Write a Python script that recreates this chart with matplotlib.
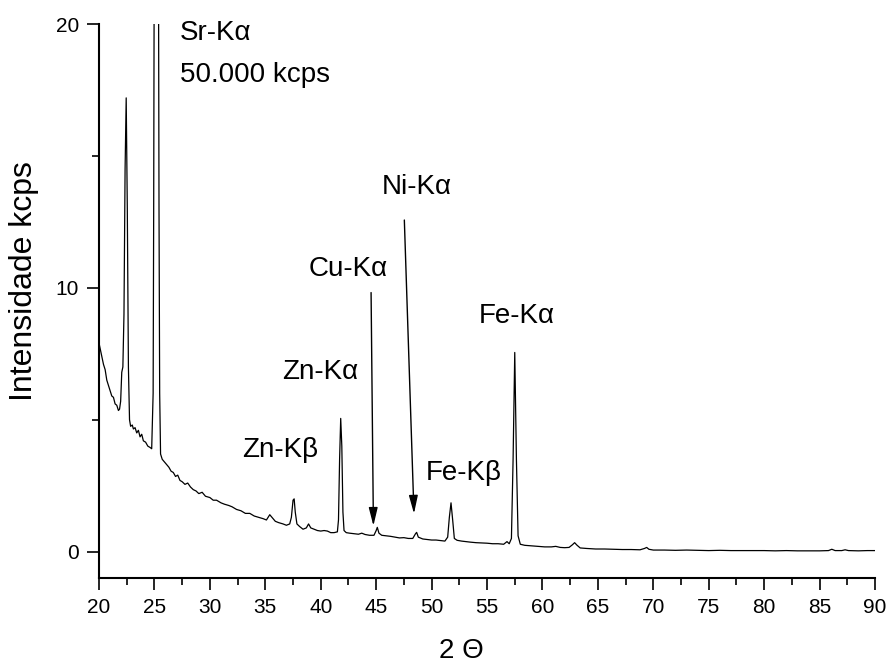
import matplotlib
matplotlib.use("Agg")
import matplotlib.pyplot as plt
from matplotlib.ticker import MultipleLocator

plt.rcParams['font.family'] = ['Liberation Sans', 'DejaVu Sans']

# spectrum (2 theta, kcps)
two_theta = [20.0, 20.1, 20.25, 20.4, 20.55, 20.7, 20.85, 21.0, 21.15, 21.3, 21.45, 21.6, 21.75, 21.85,
             21.95, 22.05, 22.15, 22.25, 22.35, 22.45, 22.55, 22.65, 22.75, 22.85, 23.0, 23.1, 23.25,
             23.4, 23.55, 23.7, 23.85, 24.0, 24.2, 24.4, 24.6, 24.75, 24.88, 24.93, 24.97, 25.05, 25.17,
             25.29, 25.37, 25.41, 25.47, 25.55, 25.7, 25.9, 26.1, 26.3, 26.5, 26.7, 26.9, 27.1, 27.3,
             27.5, 27.75, 28.0, 28.25, 28.5, 28.75, 29.0, 29.3, 29.6, 30.0, 30.3, 30.6, 31.0, 31.3, 31.7,
             32.0, 32.4, 32.8, 33.2, 33.6, 34.0, 34.4, 34.8, 35.1, 35.4, 35.6, 35.9, 36.2, 36.6, 36.9,
             37.2, 37.35, 37.5, 37.6, 37.7, 37.85, 38.1, 38.4, 38.7, 38.9, 39.1, 39.4, 39.7, 40.0, 40.3,
             40.6, 40.9, 41.2, 41.5, 41.6, 41.7, 41.8, 41.9, 42.0, 42.1, 42.3, 42.6, 43.0, 43.4, 43.7,
             44.0, 44.4, 44.8, 45.0, 45.1, 45.25, 45.5, 45.9, 46.3, 46.7, 47.1, 47.5, 47.9, 48.3, 48.55,
             48.65, 48.8, 49.2, 49.6, 50.0, 50.4, 50.8, 51.2, 51.45, 51.6, 51.75, 51.9, 52.05, 52.3,
             52.7, 53.1, 53.5, 54.0, 54.5, 55.0, 55.5, 56.0, 56.5, 56.8, 57.0, 57.2, 57.35, 57.5, 57.65,
             57.8, 58.0, 58.4, 59.0, 59.6, 60.2, 60.8, 61.2, 61.6, 62.0, 62.4, 62.7, 62.9, 63.1, 63.4,
             64.0, 64.8, 65.6, 66.4, 67.2, 68.0, 68.8, 69.2, 69.4, 69.6, 70.0, 71.0, 72.0, 73.0, 74.0,
             75.0, 76.0, 77.0, 78.0, 79.0, 80.0, 81.0, 82.0, 83.0, 84.0, 85.0, 85.8, 86.1, 86.4, 87.0,
             87.3, 87.6, 88.5, 89.3, 90.0]
kcps = [7.9, 7.7, 7.4, 7.1, 6.9, 6.5, 6.3, 6.1, 5.9, 5.85, 5.6, 5.55, 5.35, 5.4,
        5.7, 6.8, 7.0, 9.0, 14.5, 17.2, 13.0, 7.0, 5.0, 4.75, 4.8, 4.65, 4.7,
        4.5, 4.6, 4.35, 4.45, 4.2, 4.15, 4.0, 3.95, 3.9, 6.0, 13.0, 21.0, 38.0, 50.0,
        38.0, 21.0, 13.0, 6.0, 3.7, 3.5, 3.4, 3.3, 3.2, 3.05, 3.0, 2.85, 2.9, 2.7,
        2.65, 2.55, 2.6, 2.45, 2.35, 2.3, 2.2, 2.25, 2.1, 2.05, 1.95, 1.95, 1.85, 1.8, 1.75,
        1.7, 1.6, 1.55, 1.45, 1.45, 1.35, 1.3, 1.25, 1.2, 1.4, 1.3, 1.15, 1.1, 1.05, 1.0,
        1.05, 1.3, 1.95, 2.0, 1.5, 1.05, 0.95, 0.85, 0.9, 1.05, 0.9, 0.85, 0.8, 0.78, 0.8,
        0.78, 0.72, 0.72, 0.75, 1.2, 3.5, 5.05, 4.0, 1.5, 0.8, 0.72, 0.7, 0.68, 0.66, 0.7,
        0.65, 0.62, 0.62, 0.8, 0.92, 0.7, 0.62, 0.6, 0.58, 0.55, 0.52, 0.53, 0.5, 0.5, 0.68,
        0.73, 0.55, 0.48, 0.46, 0.44, 0.44, 0.42, 0.4, 0.55, 1.3, 1.85, 1.2, 0.5, 0.43,
        0.4, 0.38, 0.36, 0.34, 0.33, 0.32, 0.3, 0.3, 0.28, 0.38, 0.3, 0.5, 3.5, 7.55, 3.5,
        0.6, 0.28, 0.24, 0.22, 0.2, 0.18, 0.18, 0.2, 0.16, 0.15, 0.16, 0.26, 0.34, 0.25, 0.14,
        0.12, 0.1, 0.1, 0.09, 0.08, 0.08, 0.07, 0.12, 0.16, 0.09, 0.06, 0.06, 0.05, 0.06, 0.05,
        0.04, 0.05, 0.04, 0.04, 0.04, 0.04, 0.03, 0.04, 0.03, 0.03, 0.03, 0.04, 0.09, 0.04, 0.04,
        0.07, 0.04, 0.03, 0.04, 0.04]

# peak labels: text, x, y (baseline-left)
labels = ['Sr-Kα', '50.000 kcps', 'Ni-Kα', 'Cu-Kα', 'Zn-Kα', 'Zn-Kβ', 'Fe-Kβ', 'Fe-Kα']
label_x = [27.3, 27.3, 45.5, 38.9, 36.5, 32.87, 49.5, 54.28]
label_y = [19.4, 17.8, 13.56, 10.43, 6.56, 3.6, 2.7, 8.68]

# arrows: tail -> tip
arrow_tail = [(44.54, 9.82), (47.54, 12.57)]
arrow_tip = [(44.75, 0.98), (48.41, 1.44)]

fig = plt.figure(figsize=(8.89, 6.67), dpi=100)
ax = fig.add_axes([0.1114, 0.1334, 0.8729, 0.8306])

ax.plot(two_theta, kcps, color='black', linewidth=0.9)

for t, x, y in zip(labels, label_x, label_y):
    ax.text(x, y, t, fontsize=20, ha='left', va='baseline')

for tail, tip in zip(arrow_tail, arrow_tip):
    ax.annotate('', xy=tip, xytext=tail,
                arrowprops=dict(arrowstyle='-|>,head_length=1.1,head_width=0.27',
                                color='black', lw=1.0, mutation_scale=10,
                                shrinkA=0, shrinkB=0))

ax.set_xlim(20, 90)
ax.set_ylim(-1, 20)
ax.xaxis.set_major_locator(MultipleLocator(5))
ax.xaxis.set_minor_locator(MultipleLocator(2.5))
ax.yaxis.set_major_locator(MultipleLocator(10))
ax.yaxis.set_minor_locator(MultipleLocator(5))

for s in ['top', 'right']:
    ax.spines[s].set_visible(False)
for s in ['left', 'bottom']:
    ax.spines[s].set_linewidth(1.5)

ax.tick_params(which='major', direction='out', length=8.5, width=1.2, labelsize=15, pad=6)
ax.tick_params(which='minor', direction='out', length=4.7, width=1.2)

# axis titles placed in figure coords
fig.text(461 / 889, 0.004, '2 Θ', fontsize=20, ha='center', va='bottom')
fig.text(24 / 889, 1 - 281 / 667, 'Intensidade kcps', fontsize=23, rotation=90,
         ha='center', va='center')

fig.savefig('out.png', dpi=100)
